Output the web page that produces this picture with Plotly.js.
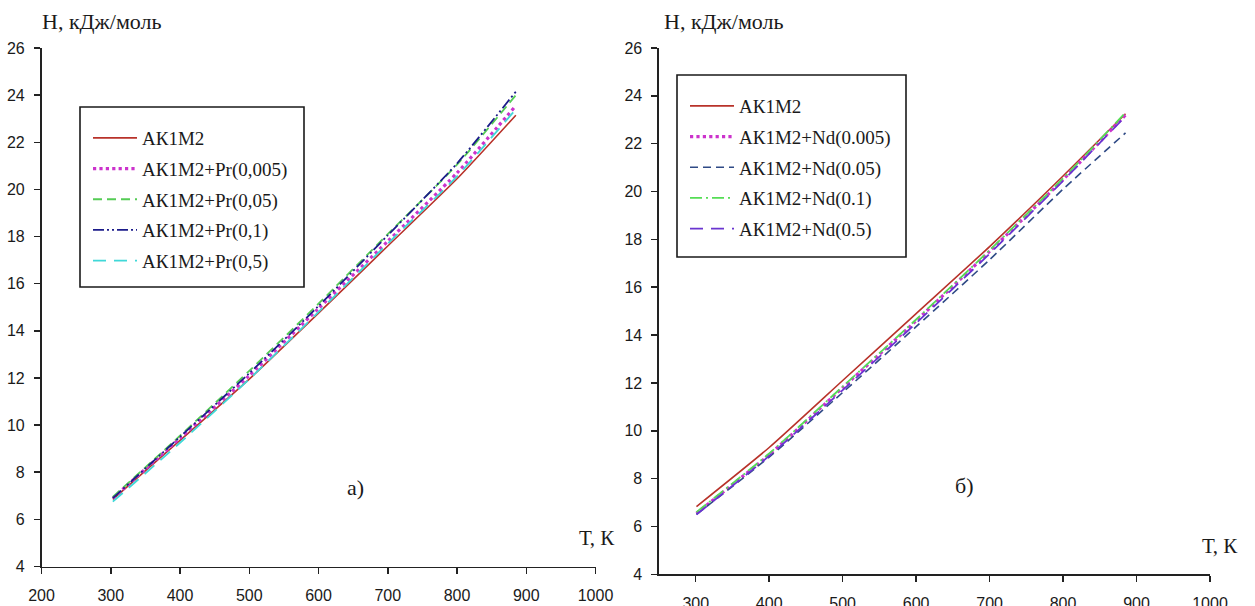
<!DOCTYPE html>
<html>
<head>
<meta charset="utf-8">
<script src="https://cdn.plot.ly/plotly-3.0.1.min.js"></script>
<style>html,body{margin:0;padding:0;background:#fff;}#chart{width:1255px;height:606px;}</style>
</head>
<body>
<div id="chart"></div>
<script>
// ---- data ----
const T_LEFT = [303, 400, 500, 600, 700, 800, 885];
const H_AK1M2_L = [6.85, 9.35, 11.95, 14.75, 17.6, 20.45, 23.15];
const H_PR_0005 = [6.9, 9.45, 12.1, 14.95, 17.8, 20.7, 23.55];
const H_PR_005 = [6.95, 9.55, 12.3, 15.15, 18.1, 21.05, 24.0];
const H_PR_01 = [6.9, 9.5, 12.2, 15.05, 18.05, 21.1, 24.15];
const H_PR_05 = [6.75, 9.25, 11.95, 14.8, 17.7, 20.55, 23.4];

const T_RIGHT = [301, 400, 500, 600, 700, 800, 885];
const H_AK1M2_R = [6.83, 9.3, 12.1, 14.9, 17.7, 20.65, 23.25];
const H_ND_0005 = [6.55, 9.0, 11.8, 14.6, 17.5, 20.5, 23.2];
const H_ND_005 = [6.5, 8.9, 11.6, 14.35, 17.15, 20.1, 22.45];
const H_ND_01 = [6.6, 9.05, 11.85, 14.65, 17.55, 20.55, 23.3];
const H_ND_05 = [6.5, 8.95, 11.7, 14.5, 17.4, 20.45, 23.15];

const NAMES_LEFT = ['АК1М2', 'АК1М2+Pr(0,005)', 'АК1М2+Pr(0,05)', 'АК1М2+Pr(0,1)', 'АК1М2+Pr(0,5)'];
const NAMES_RIGHT = ['АК1М2', 'АК1М2+Nd(0.005)', 'АК1М2+Nd(0.05)', 'АК1М2+Nd(0.1)', 'АК1М2+Nd(0.5)'];

const Y_TITLE = 'Н, кДж/моль';
const X_TITLE = 'Т, К';
const PANEL_A = 'а)';
const PANEL_B = 'б)';

// ---- styles ----
const W = 1255, H = 606;
const px = v => v / W;
const py = v => (H - v) / H;
const SERIF = 'Liberation Serif, Times New Roman, serif';
const SANS = 'Liberation Sans, Arial, sans-serif';

function tr(x, y, name, color, dash, width, xa, ya, legend, grp) {
  return {
    x: x, y: y, name: name, type: 'scatter', mode: 'lines',
    line: {color: color, dash: dash, width: width, shape: 'spline', smoothing: 0.6},
    xaxis: xa, yaxis: ya, legend: legend, legendgroup: grp, hoverinfo: 'skip'
  };
}

const traces = [
  tr(T_LEFT, H_AK1M2_L, NAMES_LEFT[0], '#b8322a', 'solid', 1.6, 'x', 'y', 'legend', 'a1'),
  tr(T_LEFT, H_PR_0005, NAMES_LEFT[1], '#cc33cc', 'dot', 3.2, 'x', 'y', 'legend', 'a2'),
  tr(T_LEFT, H_PR_005, NAMES_LEFT[2], '#55cc55', '9px,5px', 1.8, 'x', 'y', 'legend', 'a3'),
  tr(T_LEFT, H_PR_01, NAMES_LEFT[3], '#1c1c8a', '11px,3px,2px,3px,2px,3px', 1.8, 'x', 'y', 'legend', 'a4'),
  tr(T_LEFT, H_PR_05, NAMES_LEFT[4], '#40d8d8', '13px,8px', 1.8, 'x', 'y', 'legend', 'a5'),

  tr(T_RIGHT, H_AK1M2_R, NAMES_RIGHT[0], '#b8322a', 'solid', 1.6, 'x2', 'y2', 'legend2', 'b1'),
  tr(T_RIGHT, H_ND_0005, NAMES_RIGHT[1], '#cc33cc', 'dot', 3.2, 'x2', 'y2', 'legend2', 'b2'),
  tr(T_RIGHT, H_ND_005, NAMES_RIGHT[2], '#2f4a86', '8px,5px', 1.6, 'x2', 'y2', 'legend2', 'b3'),
  tr(T_RIGHT, H_ND_01, NAMES_RIGHT[3], '#55dd55', '12px,4px,2px,4px', 1.8, 'x2', 'y2', 'legend2', 'b4'),
  tr(T_RIGHT, H_ND_05, NAMES_RIGHT[4], '#6a35d0', '13px,8px', 1.8, 'x2', 'y2', 'legend2', 'b5')
];

function xax(domain, range) {
  return {
    domain: domain, range: range, dtick: 100, tick0: 0, ticks: 'outside', ticklen: 6, tickwidth: 1.5,
    tickcolor: '#222', showline: true, linecolor: '#222', linewidth: 1.6, showgrid: false, zeroline: false,
    tickfont: {family: SANS, size: 16, color: '#1a1a1a'}, ticklabelstandoff: 8, fixedrange: true
  };
}
function yax(domain, anchor) {
  return {
    domain: domain, range: [4, 26], dtick: 2, tick0: 0, ticks: 'outside', ticklen: 6, tickwidth: 1.5,
    tickcolor: '#222', showline: true, linecolor: '#222', linewidth: 1.6, showgrid: false, zeroline: false,
    tickfont: {family: SANS, size: 16, color: '#1a1a1a'}, ticklabelstandoff: 6, anchor: anchor, fixedrange: true
  };
}

const legendBase = {
  font: {family: SERIF, size: 19, color: '#1a1a1a'},
  bgcolor: 'rgba(0,0,0,0)', borderwidth: 0, traceorder: 'grouped', tracegroupgap: 3,
  itemwidth: 44, xanchor: 'left', yanchor: 'top'
};

function ann(text, x, y, size, xanchor) {
  return {text: text, x: px(x), y: py(y), xref: 'paper', yref: 'paper', showarrow: false,
          xanchor: xanchor || 'center', yanchor: 'middle',
          font: {family: SERIF, size: size, color: '#1a1a1a'}};
}

const layout = {
  width: W, height: H,
  margin: {l: 0, r: 0, t: 0, b: 0},
  paper_bgcolor: '#fff', plot_bgcolor: 'rgba(0,0,0,0)',
  showlegend: true,
  xaxis: Object.assign(xax([px(41.5), px(595.5)], [200, 1000]), {anchor: 'y'}),
  yaxis: yax([py(566.5), py(48)], 'x'),
  xaxis2: Object.assign(xax([px(659), px(1210)], [250, 1000]), {anchor: 'y2'}),
  yaxis2: yax([py(574.3), py(48)], 'x2'),
  legend: Object.assign({}, legendBase, {x: px(88), y: py(119)}),
  legend2: Object.assign({}, legendBase, {x: px(685), y: py(87)}),
  shapes: [
    {type: 'rect', xref: 'paper', yref: 'paper', x0: px(80), x1: px(304), y0: py(287), y1: py(107),
     line: {color: '#1a1a1a', width: 1.6}, fillcolor: 'rgba(0,0,0,0)', layer: 'below'},
    {type: 'rect', xref: 'paper', yref: 'paper', x0: px(677), x1: px(906), y0: py(257), y1: py(75),
     line: {color: '#1a1a1a', width: 1.6}, fillcolor: 'rgba(0,0,0,0)', layer: 'below'}
  ],
  annotations: [
    ann(Y_TITLE, 40, 22, 22, 'left'),
    ann(Y_TITLE, 662, 22, 22, 'left'),
    ann(X_TITLE, 597, 538, 21),
    ann(X_TITLE, 1220, 546, 21),
    ann(PANEL_A, 355, 487, 22),
    ann(PANEL_B, 964, 485, 22)
  ]
};

Plotly.newPlot('chart', traces, layout, {displayModeBar: false, staticPlot: true});
</script>
</body>
</html>
